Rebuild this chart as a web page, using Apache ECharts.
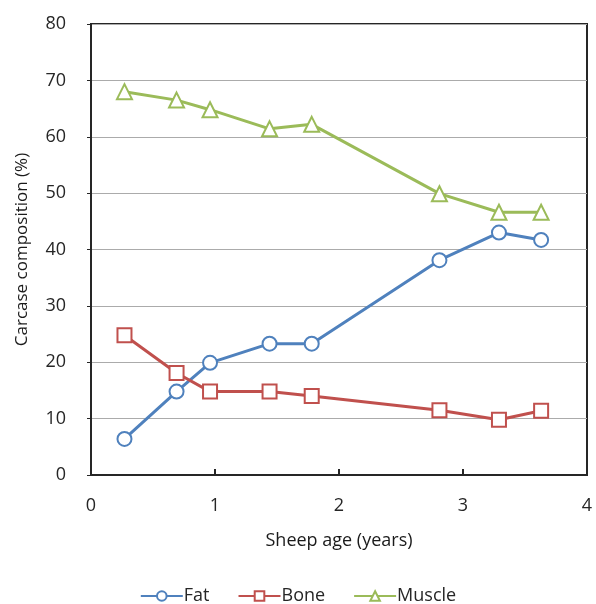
<!DOCTYPE html>
<html>
<head>
<meta charset="utf-8">
<script src="https://cdn.jsdelivr.net/npm/echarts@6/dist/echarts.min.js"></script>
<style>
  html, body { margin: 0; padding: 0; background: #fff; }
  #chart { width: 596px; height: 604px; }
</style>
</head>
<body>
<div id="chart"></div>
<script>
// sheep age (years) for each sample
const ages = [0.27, 0.69, 0.96, 1.44, 1.78, 2.81, 3.29, 3.63]

// carcase composition (%)
const fat = [6.4, 14.8, 19.9, 23.3, 23.3, 38.1, 43.0, 41.7]
const bone = [24.8, 18.1, 14.8, 14.8, 14.0, 11.5, 9.8, 11.4]
const muscle = [68.0, 66.5, 64.8, 61.4, 62.2, 49.9, 46.6, 46.6]

const seriesNames = ['Fat', 'Bone', 'Muscle']
const colors = ['#4f81bd', '#c0504d', '#9bbb59']
const symbols = ['circle', 'rect', 'triangle']

const font = '"Open Sans", "DejaVu Sans", sans-serif'

const pairs = (ys) => ages.map((x, i) => [x, ys[i]])

const chart = echarts.init(document.getElementById('chart'))

const option = {
  animation: false,
  backgroundColor: '#fff',
  grid: {
    left: 91,
    top: 24,
    right: 9,
    bottom: 129,
    show: true,
    borderColor: '#262626',
    borderWidth: 2,
    backgroundColor: 'transparent'
  },
  legend: {
    top: 582,
    left: 'center',
    itemWidth: 42,
    itemHeight: 12,
    itemGap: 28,
    data: seriesNames,
    textStyle: { fontFamily: font, fontSize: 18, color: '#262626', padding: [0, 0, 0, -4] }
  },
  xAxis: {
    type: 'value',
    min: 0,
    max: 4,
    interval: 1,
    name: 'Sheep age (years)',
    nameLocation: 'middle',
    nameGap: 57,
    nameTextStyle: { fontFamily: font, fontSize: 18, color: '#1a1a1a' },
    axisLine: { show: true, lineStyle: { color: '#262626', width: 2 } },
    axisTick: { show: true, inside: true, length: 6, lineStyle: { color: '#262626', width: 2 } },
    axisLabel: { fontFamily: font, fontSize: 18, color: '#262626', margin: 22 },
    splitLine: { show: false }
  },
  yAxis: {
    type: 'value',
    min: 0,
    max: 80,
    interval: 10,
    name: 'Carcase composition (%)',
    nameLocation: 'middle',
    nameGap: 60,
    nameTextStyle: { fontFamily: font, fontSize: 17, color: '#1a1a1a' },
    axisLine: { show: true, lineStyle: { color: '#262626', width: 2 } },
    axisTick: { show: true, length: 4, lineStyle: { color: '#262626', width: 1 } },
    axisLabel: { fontFamily: font, fontSize: 18, color: '#262626', margin: 25 },
    splitLine: { show: true, lineStyle: { color: '#ababab', width: 1 } }
  },
  series: [fat, bone, muscle].map((ys, i) => ({
    name: seriesNames[i],
    type: 'line',
    data: pairs(ys),
    symbol: symbols[i],
    symbolSize: i === 2 ? 15 : 14,
    color: colors[i],
    lineStyle: { color: colors[i], width: 3 },
    itemStyle: { color: '#fff', borderColor: colors[i], borderWidth: 2 }
  }))
}

chart.setOption(option)
</script>
</body>
</html>
